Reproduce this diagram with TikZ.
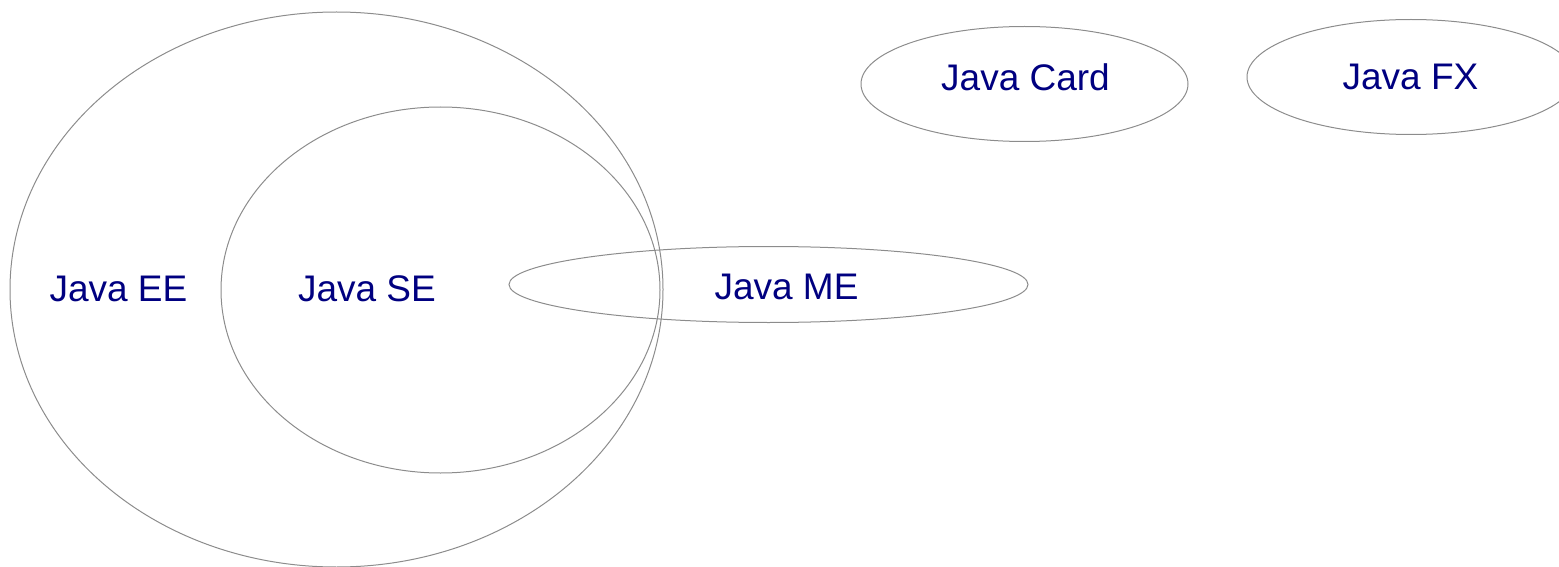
\documentclass[tikz,border=0pt]{standalone}
\usepackage{fontspec}
\setmainfont{Liberation Sans}
\usepackage{tikz}
\usetikzlibrary{shapes.geometric,positioning}
\definecolor{edgegray}{RGB}{140,140,140}
\definecolor{labelblue}{RGB}{0,0,128}
\tikzset{set/.style={draw=edgegray,line width=0.5pt,ellipse,inner sep=0pt},
  setlabel/.style={text=labelblue,inner sep=0pt,font=\fontsize{18.5}{22}\selectfont}}

\begin{document}
\begin{tikzpicture}[x=0.5pt,y=-0.5pt]
\useasboundingbox (0,0) rectangle (1559,567);
\node[set,minimum width=326.5pt,minimum height=277.5pt] (ee) at (336.5,289.5) {};
\node[set,minimum width=219.5pt,minimum height=183pt] (se) at (440.5,290) {};
\node[set,minimum width=259.5pt,minimum height=38pt] (me) at (768.5,284.5) {};
\node[set,minimum width=163.5pt,minimum height=57.5pt] (card) at (1024.5,84) {};
\node[set,minimum width=164pt,minimum height=57.5pt] (fx) at (1411,77) {};
 \node[setlabel] (eetext) at (118.5,288.5) {Java EE};
 \node[setlabel] (setext) at (367,288.5) {Java SE};
 \node[setlabel] (metext) at (786.5,287) {Java ME};
 \node[setlabel] (cardtext) at (1025.5,77) {Java Card};
 \node[setlabel] (fxtext) at (1410.5,77) {Java FX};
\end{tikzpicture}
\end{document}
